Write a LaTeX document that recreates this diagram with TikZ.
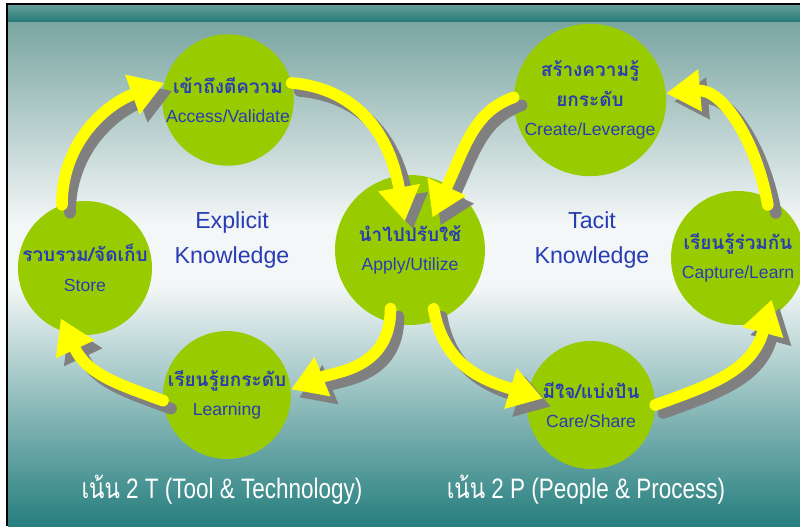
\documentclass[tikz,border=0pt]{standalone}
\usepackage{fontspec}
\setmainfont{Liberation Sans}
\newfontfamily\thaifont[Script=Thai]{Loma}
\usetikzlibrary{arrows.meta}

\definecolor{leaf}{RGB}{153,204,0}
\definecolor{sun}{RGB}{255,255,0}
\definecolor{dusk}{RGB}{128,128,128}
\definecolor{ink}{RGB}{40,60,180}
\definecolor{bandtop}{RGB}{100,158,152}
\definecolor{bandbottom}{RGB}{36,120,118}
\definecolor{teallight}{RGB}{122,166,162}
\definecolor{mist}{RGB}{244,247,247}
\definecolor{tealmid}{RGB}{158,190,190}
\definecolor{tealdark}{RGB}{38,126,126}

\newcommand{\thaiword}[1]{{\thaifont\bfseries\fontsize{13.5}{21}\selectfont #1}}

\tikzset{
  topic/.style={circle, fill=leaf, inner sep=0pt, align=center, text=ink,
    font=\fontsize{12.5}{21}\selectfont},
  kind/.style={align=center, text=ink, font=\fontsize{16.5}{25}\selectfont},
  caption/.style={text=white, font=\fontsize{20}{24}\selectfont},
  flow/.style={line width=2.9mm, line cap=round, -{Triangle[length=8.5mm,width=10mm]}}
}

\begin{document}
\begin{tikzpicture}[x=0.25mm,y=0.25mm]
  \useasboundingbox (0,0) rectangle (800,-526);
  % frame and background
  \fill[white] (0,0) rectangle (800,-526);
  \fill[black] (6,-3) rectangle (800,-526);
  \shade[top color=bandtop, bottom color=bandbottom] (8,-5) rectangle (800,-22);
  \shade[top color=teallight, bottom color=mist] (8,-22) rectangle (800,-225);
  \fill[mist] (8,-224) rectangle (800,-286);
  \shade[top color=mist, middle color=tealmid, bottom color=tealdark] (8,-285) rectangle (800,-526);

  % explicit side
  \node[topic, minimum size=33.5mm] (store) at (85,-268) {\thaiword{รวบรวม/จัดเก็บ}\\Store};
  \node[topic, minimum size=32mm] (access) at (228,-100) {\thaiword{เข้าถึงตีความ}\\Access/Validate};
  \node[topic, minimum size=37.5mm] (apply) at (410,-250) {\thaiword{นำไปปรับใช้}\\Apply/Utilize};
  \node[topic, minimum size=31.5mm] (learning) at (227,-395) {\thaiword{เรียนรู้ยกระดับ}\\Learning};
  \node[kind] (explicit) at (232,-240) {Explicit\\Knowledge};

  % tacit side
  \node[topic, minimum size=33.5mm] (create) at (590,-100) {\thaiword{สร้างความรู้}\\\thaiword{ยกระดับ}\\Create/Leverage};
  \node[topic, minimum size=33.5mm] (capture) at (738,-258) {\thaiword{เรียนรู้ร่วมกัน}\\Capture/Learn};
  \node[topic, minimum size=32mm] (care) at (591,-405) {\thaiword{มีใจ/แบ่งปัน}\\Care/Share};
  \node[kind] (tacit) at (592,-240) {Tacit\\Knowledge};

  % arrows, shadow first
  \foreach \c/\d in {dusk/2mm, sun/0mm} {
    \begin{scope}[transform canvas={shift={(\d,-\d)}}, draw=\c]
      \draw[flow] (store.110) to[out=90,in=200] (access.165);
      \draw[flow, shorten >=-11.5mm] (access.15) to[out=-5,in=100] (apply.100);
      \draw[flow, shorten <=-3.5mm] (apply.255) to[out=270,in=22] (learning.5);
      \draw[flow, shorten >=-4mm] (learning.185) to[out=160,in=-65] (store.255);
      \draw[flow, shorten <=-3mm, shorten >=-4mm] (apply.290) to[out=280,in=163] (care.170);
      \draw[flow, shorten >=-5mm] (care.0) to[out=20,in=255] (capture.-65);
      \draw[flow, shorten <=-2mm] (capture.65) to[out=100,in=5] (create.5);
      \draw[flow, shorten >=-9mm] (create.178) to[out=200,in=65] (apply.60);
    \end{scope}
  }

  \node[caption] (ttwo) at (222,-490) {\scalebox{0.8}[1]{{\thaifont เน้น} 2 T (Tool \& Technology)}};
  \node[caption] (ptwo) at (586,-490) {\scalebox{0.8}[1]{{\thaifont เน้น} 2 P (People \& Process)}};
\end{tikzpicture}
\end{document}
